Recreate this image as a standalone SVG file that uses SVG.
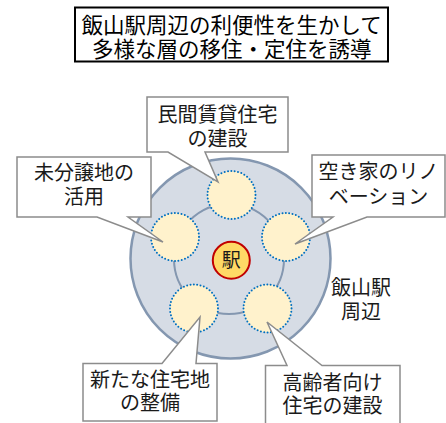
<svg xmlns="http://www.w3.org/2000/svg" width="446" height="423" viewBox="0 0 446 423">
<style>
.t{font-family:"Liberation Sans","Noto Sans CJK JP",sans-serif;fill:#1a1a1a;text-anchor:middle}
.lbl{font-size:20px}
.ttl{font-size:21.5px;fill:#000}
.call{fill:#fff;stroke:#8c8c8c;stroke-width:1.5;stroke-linejoin:miter}
.spot{fill:#FFF2CC;stroke:#0070C0;stroke-width:2;stroke-dasharray:0 3.4;stroke-linecap:round}
</style>
<rect width="446" height="423" fill="#fff"/>
<g id="title">
<rect x="75" y="7.5" width="313" height="54" fill="#fff" stroke="#000" stroke-width="2"/>
<text class="t ttl" x="231.7" y="32.5">飯山駅周辺の利便性を生かして</text>
<text class="t ttl" x="231.7" y="57">多様な層の移住・定住を誘導</text>
</g>
<g id="area">
<circle cx="230.5" cy="258.5" r="100" fill="#D6DCE5" stroke="#8497B0" stroke-width="2.5"/>
<circle cx="229" cy="259" r="55" fill="none" stroke="#8497B0" stroke-width="2"/>
<text class="t lbl" x="361" y="295">飯山駅</text>
<text class="t lbl" x="361" y="319">周辺</text>
</g>
<g id="spots">
<circle id="spot-top" class="spot" cx="231.5" cy="195" r="24"/>
<circle id="spot-left" class="spot" cx="175" cy="237" r="24"/>
<circle id="spot-right" class="spot" cx="286" cy="237" r="24"/>
<circle id="spot-bl" class="spot" cx="194" cy="308.5" r="24"/>
<circle id="spot-br" class="spot" cx="267.5" cy="308.5" r="24"/>
</g>
<g id="station">
<circle cx="231.3" cy="260.3" r="18.5" fill="#FFD966" stroke="#C00000" stroke-width="2"/>
<text class="t" x="231.3" y="267" font-size="19">駅</text>
</g>
<g id="connectors">
<path id="c-top" class="call" d="M147,97 H288 V152 H205 L218,182 L168,152 H147 Z"/>
<path id="c-left" class="call" d="M17,157 H151 V217 H128 L163,242 L97,217 H17 Z"/>
<path id="c-right" class="call" d="M312,155 H445 V217 H367 L295,244 L333,217 H312 Z"/>
<path id="c-bl" class="call" d="M83,363.5 H162 L200,317 L196,363.5 H217 V421 H83 Z"/>
<path id="c-br" class="call" d="M265.5,365.5 H287 L267,322 L322,365.5 H400 V425 H265.5 Z"/>
</g>
<g id="node-top">
<text class="t lbl" x="217.5" y="122">民間賃貸住宅</text>
<text class="t lbl" x="217.5" y="146">の建設</text>
</g>
<g id="node-left">
<text class="t lbl" x="84" y="180">未分譲地の</text>
<text class="t lbl" x="84" y="204">活用</text>
</g>
<g id="node-right">
<text class="t lbl" x="378.5" y="178.5">空き家のリノ</text>
<text class="t lbl" x="378.5" y="203.5">ベーション</text>
</g>
<g id="node-bl">
<text class="t lbl" x="150" y="386.5">新たな住宅地</text>
<text class="t lbl" x="150" y="410">の整備</text>
</g>
<g id="node-br">
<text class="t lbl" x="332.5" y="390">高齢者向け</text>
<text class="t lbl" x="332.5" y="412.5">住宅の建設</text>
</g>
</svg>
